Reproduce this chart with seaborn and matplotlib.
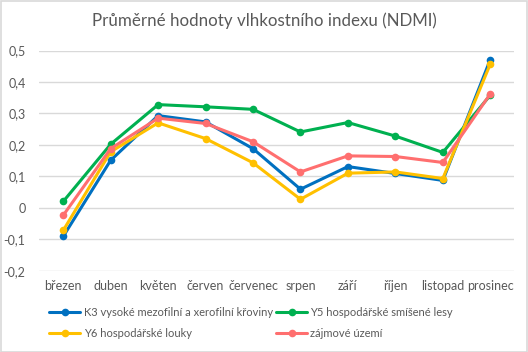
import matplotlib
matplotlib.use("Agg")
import matplotlib.pyplot as plt
import seaborn as sns
import pandas as pd
from matplotlib.patches import Rectangle

months = ["březen", "duben", "květen", "červen", "červenec", "srpen", "září", "říjen", "listopad", "prosinec"]
k3 = [-0.091, 0.151, 0.293, 0.273, 0.188, 0.059, 0.131, 0.109, 0.087, 0.471]
y5 = [0.020, 0.202, 0.328, 0.321, 0.313, 0.241, 0.271, 0.228, 0.176, 0.358]
y6 = [-0.072, 0.178, 0.270, 0.220, 0.143, 0.027, 0.110, 0.114, 0.093, 0.457]
zu = [-0.024, 0.188, 0.285, 0.268, 0.210, 0.114, 0.165, 0.163, 0.144, 0.362]
series_names = ["K3 vysoké mezofilní a xerofilní křoviny", "Y5 hospodářské smíšené lesy",
                "Y6 hospodářské louky", "zájmové území"]
yticks = [-0.2, -0.1, 0, 0.1, 0.2, 0.3, 0.4, 0.5]
ytick_labels = ["-0,2", "-0,1", "0", "0,1", "0,2", "0,3", "0,4", "0,5"]
title = "Průměrné hodnoty vlhkostního indexu (NDMI)"

colors = {series_names[0]: "#0070C0", series_names[1]: "#00B050",
          series_names[2]: "#FFC000", series_names[3]: "#FF6F6F"}

rows = []
for name, vals in zip(series_names, [k3, y5, y6, zu]):
    for m, v in zip(months, vals):
        rows.append({"měsíc": m, "hodnota": v, "série": name})
df = pd.DataFrame(rows)

sns.set_theme(style="white")
plt.rcParams['font.family'] = ['Lato', 'DejaVu Sans']
text_col = "#595959"

fig = plt.figure(figsize=(5.28, 3.52), dpi=100)
ax = fig.add_axes([0.0748, 0.231, 0.8987, 0.6255])

sns.lineplot(data=df, x="měsíc", y="hodnota", hue="série", hue_order=series_names,
             palette=colors, sort=False, marker="o", markersize=5.5, markeredgewidth=0,
             linewidth=2.2, ax=ax, legend=True)

ax.set_xlim(-0.5, len(months) - 0.5)
ax.set_ylim(-0.2, 0.5)
ax.set_yticks(yticks)
ax.set_yticklabels(ytick_labels)
ax.set_xlabel("")
ax.set_ylabel("")
ax.grid(axis="y", color="#D9D9D9", linewidth=1)
ax.set_axisbelow(True)
for s in ax.spines.values():
    s.set_visible(False)
ax.tick_params(axis="both", length=0, labelsize=9, labelcolor=text_col, pad=7)
ax.tick_params(axis="y", pad=10)

handles, labels = ax.get_legend_handles_labels()
ax.get_legend().remove()
order = [0, 2, 1, 3]
leg = fig.legend([handles[i] for i in order], [labels[i] for i in order],
                 ncol=2, loc="center left", bbox_to_anchor=(0.093, 0.083), frameon=False,
                 borderpad=0, borderaxespad=0,
                 fontsize=8, labelcolor=text_col, handlelength=2.8, handletextpad=0.3,
                 columnspacing=0.3, labelspacing=0.95)

fig.text(0.5, 0.94, title, ha="center", va="center", fontsize=12.2, color=text_col)

fig.patches.append(Rectangle((0.001, 0.001), 0.997, 0.996, transform=fig.transFigure,
                             fill=False, edgecolor="#D9D9D9", linewidth=1.2))

fig.savefig("out.png", dpi=100)
